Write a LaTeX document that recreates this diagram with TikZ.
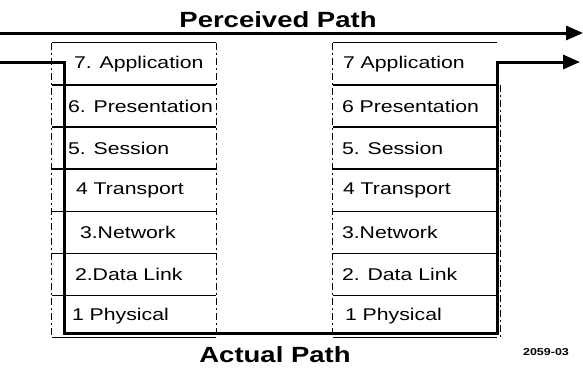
\documentclass[tikz,border=0pt]{standalone}
\usepackage{fontspec}
\newfontfamily\layerfont[FakeStretch=1.25]{Liberation Sans}
\usepackage{tikz}
\usetikzlibrary{positioning,arrows.meta}

\tikzset{
  layer/.style={minimum width=164pt, minimum height=41.7pt, inner sep=0pt},
  lbl/.style={anchor=west, inner sep=0pt, font=\layerfont\fontsize{17}{19}\selectfont},
  sep/.style={line width=1.3pt},
  side/.style={line width=0.8pt, dash pattern=on 7pt off 3pt on 2pt off 3pt},
  route/.style={line width=3pt, -{Triangle[length=17pt,width=14pt]}},
  head/.style={font=\layerfont\bfseries\fontsize{22}{24}\selectfont, anchor=base}
}

\begin{document}
\begin{tikzpicture}[x=1pt, y=1pt]
      \useasboundingbox (0,0) rectangle (583,-368);

      % left stack
      \node[layer] (l7) at (134,-63.85) {};
      \node[layer, below=0pt of l7] (l6) {};
      \node[layer, below=0pt of l6] (l5) {};
      \node[layer, below=0pt of l5] (l4) {};
      \node[layer, below=0pt of l4] (l3) {};
      \node[layer, below=0pt of l3] (l2) {};
      \node[layer, below=0pt of l2] (l1) {};

      % right stack
      \node[layer] (r7) at (415,-63.85) {};
      \node[layer, below=0pt of r7] (r6) {};
      \node[layer, below=0pt of r6] (r5) {};
      \node[layer, below=0pt of r5] (r4) {};
      \node[layer, below=0pt of r4] (r3) {};
      \node[layer, below=0pt of r3] (r2) {};
      \node[layer, below=0pt of r2] (r1) {};

      \draw[sep] (l7.north west) -- (l7.north east) (l6.north west) -- (l6.north east)
                 (l5.north west) -- (l5.north east) (l4.north west) -- (l4.north east)
                 (l3.north west) -- (l3.north east) (l2.north west) -- (l2.north east)
                 (l1.north west) -- (l1.north east) (l1.south west) -- (l1.south east);
      \draw[sep] (r7.north west) -- (r7.north east) (r6.north west) -- (r6.north east)
                 (r5.north west) -- (r5.north east) (r4.north west) -- (r4.north east)
                 (r3.north west) -- (r3.north east) (r2.north west) -- (r2.north east)
                 (r1.north west) -- (r1.north east) (r1.south west) -- (r1.south east);
      \draw[side] (l7.north west) -- (l1.south west) (l7.north east) -- (l1.south east);
      \draw[side] (r7.north west) -- (r1.south west)
                  ([xshift=3pt]r7.south east) -- ([xshift=3pt]r1.south east);

      \node[lbl] at ([xshift=22pt]l7.west) {7. Application};
      \node[lbl] at ([xshift=16pt]l6.west) {6. Presentation};
      \node[lbl] at ([xshift=16pt]l5.west) {5. Session};
      \node[lbl] at ([xshift=24pt]l4.west) {4 Transport};
      \node[lbl] at ([xshift=28pt]l3.west) {3.Network};
      \node[lbl] at ([xshift=23pt]l2.west) {2.Data Link};
      \node[lbl] at ([xshift=20pt]l1.west) {1 Physical};

      \node[lbl] at ([xshift=10pt]r7.west) {7 Application};
      \node[lbl] at ([xshift=9pt]r6.west) {6 Presentation};
      \node[lbl] at ([xshift=9pt]r5.west) {5. Session};
      \node[lbl] at ([xshift=10pt]r4.west) {4 Transport};
      \node[lbl] at ([xshift=9pt]r3.west) {3.Network};
      \node[lbl] at ([xshift=9pt]r2.west) {2. Data Link};
      \node[lbl] at ([xshift=12pt]r1.west) {1 Physical};

      % paths
      \coordinate (pin) at (0,-33);
      \coordinate (pout) at (583,-33);
      \coordinate (ain) at (0,-62);
      \coordinate (aout) at (580,-62);

      \draw[route] (pin) -- (pout);
      \draw[route] (ain) -| ([xshift=13pt,yshift=4pt]l1.south west)
                  -- ([yshift=4pt]r1.south east) |- (aout);

      \node[head] (perc) at (278,-27) {Perceived Path};
      \node[head] (act) at (275,-362) {Actual Path};
      \node[font=\layerfont\bfseries\fontsize{10}{12}\selectfont, anchor=base] (fig) at (546,-355) {2059-03};
    \end{tikzpicture}
\end{document}
